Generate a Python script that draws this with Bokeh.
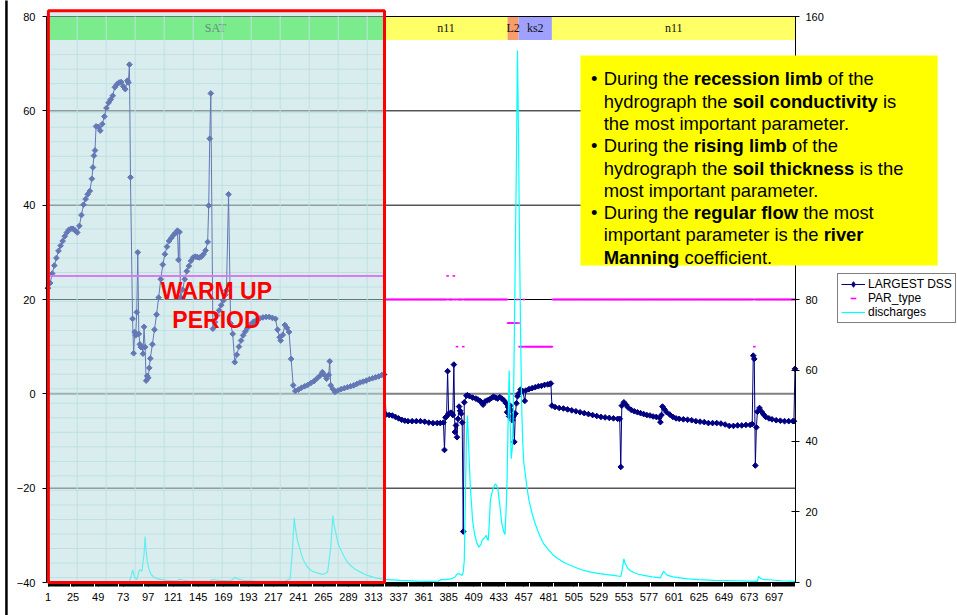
from math import pi

from bokeh.core.properties import value
from bokeh.embed import file_html
from bokeh.models import (BoxAnnotation, FixedTicker, Label, Legend, LegendItem,
                          LinearAxis, Range1d)
from bokeh.plotting import figure
from bokeh.resources import INLINE

# ---------------------------------------------------------------- data
# LARGEST DSS (left axis), by time step
dss_step = [
    1, 3, 5, 7, 9, 11, 13, 15, 17, 19, 21, 23, 25, 27, 29, 31, 33, 35, 37, 39,
    41, 43, 44, 45, 46, 47, 49, 51, 53, 55, 57, 59, 61, 63, 65, 67, 69, 71, 73, 75,
    77, 78, 79, 80, 82, 83, 84, 85, 86, 87, 88, 89, 90, 91, 92, 93, 94, 95, 96, 97,
    98, 99, 101, 103, 105, 107, 109, 111, 113, 115, 117, 119, 121, 123, 125, 126, 127, 128, 130, 132,
    134, 136, 138, 140, 142, 144, 146, 148, 150, 152, 154, 155, 156, 157, 159, 161, 163, 165, 167, 169,
    171, 172, 174, 176, 178, 180, 182, 184, 186, 188, 190, 192, 195, 198, 201, 204, 207, 210, 213, 216,
    219, 221, 223, 224, 226, 228, 230, 232, 234, 236, 238, 241, 244, 247, 250, 253, 256, 259, 262, 264,
    266, 268, 270, 271, 272, 274, 276, 279, 282, 285, 288, 291, 294, 297, 300, 303, 306, 309, 312, 315,
    318, 321, 323,
    325, 328, 331, 334, 337, 340, 343, 346, 350, 354, 358, 362, 366, 370, 374, 377, 380, 381, 382, 383,
    384, 385, 387, 388, 389, 390, 391, 392, 393, 394, 395, 396, 397, 398, 399, 400, 402, 403, 405, 408,
    411, 413, 415, 417, 418, 420, 422, 424, 426, 428, 430, 432, 434, 436, 438, 440, 441, 442, 443, 444,
    445, 446, 447, 448, 449, 450, 451, 452, 454, 456, 458, 459, 462, 465, 468, 471, 474, 477, 480, 482,
    483, 484, 487, 491, 495, 499, 503, 507, 511, 515, 519, 523, 527, 531, 535, 539, 543, 547, 549, 550,
    551, 553, 555, 557, 560, 563, 566, 569, 572, 575, 578, 581, 584, 587, 588, 589, 590, 592, 594, 597,
    600, 603, 606, 610, 614, 618, 622, 626, 630, 634, 638, 642, 646, 650, 654, 658, 662, 666, 670, 674,
    676, 677, 678, 679, 680, 681, 683, 685, 687, 689, 692, 695, 699, 703, 707, 711, 715, 716, 717,
]
dss_value = [
    22.4, 23.5, 25.5, 27.2, 28.8, 30.3, 31.4, 32.4, 33.4, 34.2, 34.8, 35.0, 35.0, 34.6, 34.2, 35.6, 37.9, 40.1, 41.3, 42.3,
    43.0, 45.6, 48.0, 50.5, 51.6, 56.7, 56.6, 55.8, 57.2, 58.8, 60.6, 61.7, 62.4, 63.2, 65.0, 65.6, 66.0, 66.1, 65.2, 64.6,
    66.4, 66.0, 69.8, 45.9, 15.9, 8.6, 13.1, 12.4, 17.3, 30.0, 12.7, 10.5, 9.9, 9.9, 8.5, 14.2, 9.9, 2.8, 3.8, 3.4,
    5.5, 7.5, 10.5, 13.6, 16.8, 20.4, 24.3, 27.4, 29.6, 31.2, 32.4, 33.0, 33.6, 34.1, 34.6, 28.4, 34.3, 20.5, 22.1, 24.3,
    26.0, 27.1, 28.2, 28.9, 29.1, 29.0, 28.9, 29.1, 29.6, 30.4, 32.2, 39.9, 54.1, 63.7, 13.8, 15.2, 16.6, 17.7, 18.8, 19.8,
    21.0, 21.9, 42.3, 14.9, 12.7, 6.7, 8.3, 10.0, 11.3, 12.4, 13.2, 13.9, 14.7, 15.3, 15.7, 16.0, 16.2, 16.3, 16.3, 16.1,
    15.9, 13.6, 12.0, 11.3, 12.5, 14.6, 14.0, 13.1, 7.4, 1.8, 0.6, 0.9, 1.3, 1.6, 1.9, 2.3, 2.7, 3.3, 3.9, 4.6,
    4.0, 3.2, 4.0, 6.9, 1.8, 1.0, 0.4, 0.7, 1.0, 1.2, 1.4, 1.6, 1.8, 2.1, 2.4, 2.6, 2.8, 3.1, 3.3, 3.5,
    3.7, 4.0, 4.1,
    -4.4, -4.5, -4.6, -4.9, -5.2, -5.5, -5.7, -5.8, -5.8, -5.8, -5.8, -5.9, -6.1, -6.2, -6.2, -6.2, -6.1, -11.9, -5.0, -4.8,
    4.8, -4.2, -4.0, -4.1, -4.5, 6.2, -8.1, -6.7, -9.2, -5.3, -2.7, -3.6, -4.2, -6.1, -29.2, -1.8, -0.4, -0.3, -0.5, -0.8,
    -1.0, -1.2, -1.5, -1.9, -2.3, -1.6, -1.4, -1.2, -0.9, -0.6, -0.8, -1.0, -0.7, -1.0, -1.4, -2.0, -3.9, -2.8, -4.8, -2.5,
    -3.5, -5.6, -4.8, -10.2, -4.2, -2.0, -0.5, 0.0, 0.9, 0.6, -1.5, 0.7, 1.0, 1.2, 1.4, 1.6, 1.7, 1.9, 2.0, 2.1,
    2.2, -2.5, -2.8, -3.0, -3.1, -3.3, -3.5, -3.7, -3.9, -4.1, -4.3, -4.5, -4.7, -4.9, -5.0, -5.1, -5.2, -5.3, -5.3, -15.5,
    -2.5, -1.8, -2.3, -2.9, -3.4, -3.7, -3.9, -4.1, -4.3, -4.5, -4.6, -4.8, -4.9, -5.1, -6.0, -4.5, -2.7, -3.3, -3.9, -4.4,
    -4.9, -5.2, -5.3, -5.4, -5.5, -5.6, -5.8, -5.9, -6.0, -6.2, -6.2, -6.2, -6.3, -6.5, -6.8, -6.8, -6.7, -6.7, -6.6, -6.6,
    -6.4, 8.1, 7.4, -15.2, -7.1, -3.8, -3.0, -3.8, -4.4, -4.9, -5.2, -5.4, -5.6, -5.7, -5.8, -5.8, -5.8, -5.8, 5.3,
]

# discharges (right axis), by time step
q_step = [
    1, 40, 79, 81, 82, 84, 86, 88, 89, 91, 93, 94, 95, 96, 98, 100, 103, 106, 110, 115,
    120, 125, 127, 130, 135, 145, 155, 158, 165, 175, 178, 180, 183, 188, 200, 215, 228, 233, 235, 237,
    238, 240, 242, 244, 246, 249, 253, 258, 264, 267, 269, 270, 272, 274, 275, 277, 279, 282, 285, 288,
    291, 295, 300, 307, 315, 323, 339, 355, 365, 375, 378, 382, 387, 391, 393, 395, 398, 399, 400, 401,
    402, 403, 404, 405, 406, 408, 410, 412, 414, 416, 417, 419, 421, 422, 423, 424, 425, 427, 429, 430,
    432, 434, 436, 438, 439, 440, 441, 442, 443, 444, 445, 446, 447, 448, 449, 450, 451, 452, 453, 454,
    455, 456, 457, 458, 460, 462, 465, 467, 470, 473, 476, 480, 485, 490, 496, 502, 508, 512, 520, 528,
    535, 543, 550, 551, 553, 554, 557, 560, 566, 572, 580, 588, 589, 591, 593, 595, 600, 607, 614, 625,
    640, 660, 681, 682, 684, 686, 695, 704, 717,
]
q_value = [
    0.2, 0.2, 0.3, 2.0, 3.6, 1.5, 0.8, 3.0, 3.6, 3.2, 8.0, 13.0, 9.0, 6.2, 3.5, 2.2, 1.4, 1.0, 0.8, 0.6,
    0.5, 0.5, 0.9, 0.7, 0.5, 0.4, 0.3, 0.8, 0.6, 0.5, 0.8, 1.5, 1.0, 0.6, 0.4, 0.3, 0.4, 1.0, 8.0, 18.3,
    15.6, 12.0, 10.0, 7.8, 6.2, 4.6, 3.4, 2.8, 2.3, 2.6, 3.0, 5.3, 10.0, 18.9, 16.5, 13.8, 11.0, 9.0, 7.2, 5.8,
    4.8, 3.8, 3.0, 2.0, 1.3, 0.9, 0.6, 0.4, 0.3, 0.4, 0.8, 0.8, 1.0, 1.5, 2.4, 2.5, 2.0, 3.0, 6.2, 23.2,
    40.0, 47.2, 40.0, 32.6, 26.0, 17.5, 13.5, 11.2, 10.0, 10.8, 11.9, 12.5, 13.3, 12.4, 11.9, 17.0, 23.2, 26.0, 27.5, 27.9,
    26.8, 22.0, 16.6, 14.2, 13.6, 20.0, 28.8, 45.0, 59.9, 45.0, 35.0, 38.0, 48.0, 70.0, 95.0, 120.0, 150.4, 125.0, 95.0, 70.0,
    50.0, 40.0, 34.0, 31.7, 27.0, 23.2, 19.5, 17.5, 15.0, 12.8, 11.0, 9.5, 7.8, 6.7, 5.6, 4.8, 4.1, 3.6, 3.0, 2.6,
    2.3, 2.0, 1.7, 3.0, 6.7, 5.5, 3.9, 3.2, 2.4, 2.0, 1.6, 1.3, 2.0, 3.2, 2.5, 2.0, 1.6, 1.3, 1.0, 0.8,
    0.6, 0.5, 0.3, 1.7, 1.2, 0.9, 0.7, 0.5, 0.3,
]

# PAR_type (left axis): constant runs plus single-step changes
par_run_first = [1, 324, 442, 453, 485]
par_run_last = [323, 441, 452, 484, 717]
par_run_value = [25, 20, 15, 10, 20]
par_spike_step = [384, 390, 393, 399, 451, 457, 678]
par_spike_value = [25, 25, 10, 10, 20, 20, 10]

# parameter band along the top of the chart
band_names = ["SAT", "n11", "L2", "ks2", "n11"]
band_from = [-0.5, 323.5, 441.5, 452.0, 484.0]
band_to = [323.5, 441.5, 452.0, 484.0, 717.5]
band_colors = ["#30FD28", "#FFFF66", "#F79C6B", "#A0A0FF", "#FFFF66"]

x_ticks = [1, 25, 49, 73, 97, 121, 145, 169, 193, 217, 241, 265, 289, 313, 337,
           361, 385, 409, 433, 457, 481, 505, 529, 553, 577, 601, 625, 649, 673, 697]
left_ticks = [-40, -20, 0, 20, 40, 60, 80]
right_ticks = [0, 20, 40, 60, 80, 100, 120, 140, 160]
grid_levels = [-20, 20, 40, 60, 80]

note_lines = [
    [("During the ", False), ("recession limb", True), (" of the", False)],
    [("hydrograph the ", False), ("soil conductivity", True), (" is", False)],
    [("the most important parameter.", False)],
    [("During the ", False), ("rising limb", True), (" of the", False)],
    [("hydrograph the ", False), ("soil thickness", True), (" is the", False)],
    [("most important parameter.", False)],
    [("During the ", False), ("regular flow", True), (" the most", False)],
    [("important parameter is the ", False), ("river", True)],
    [("Manning", True), (" coefficient.", False)],
]
note_bullets = [0, 3, 6]

# expand PAR_type runs
spikes = dict(zip(par_spike_step, par_spike_value))
par_step, par_value = [], []
for first, last, level in zip(par_run_first, par_run_last, par_run_value):
    for s in range(first, last + 1):
        par_step.append(s)
        par_value.append(spikes.get(s, level))

# Arial/Helvetica advance widths (1/1000 em) for placing bold runs
W_REG = {" ": 278, ".": 278, "a": 556, "b": 556, "c": 500, "d": 556, "e": 556, "f": 278,
         "g": 556, "h": 556, "i": 222, "k": 500, "l": 222, "m": 833, "n": 556, "o": 556,
         "p": 556, "r": 333, "s": 500, "t": 278, "u": 556, "v": 500, "w": 722, "y": 500,
         "D": 722, "M": 833}
W_BOLD = {" ": 278, ".": 278, "a": 556, "b": 611, "c": 556, "d": 611, "e": 556, "f": 333,
          "g": 611, "h": 611, "i": 278, "k": 556, "l": 278, "m": 889, "n": 611, "o": 611,
          "p": 611, "r": 389, "s": 556, "t": 333, "u": 611, "v": 556, "w": 778, "y": 556,
          "D": 722, "M": 833}


def text_width(s, bold, size):
    table = W_BOLD if bold else W_REG
    return sum(table.get(ch, 556) for ch in s) * size / 1000.0


FONT = "Liberation Sans"

# ---------------------------------------------------------------- geometry
W, H = 957, 615
X_LO, X_HI = -0.5, 717.5          # category extent of the plot area
Y_LO, Y_HI = -40.0, 80.0          # left-axis extent
Q_LO, Q_HI = 0.0, 160.0           # right-axis extent
AREA_L, AREA_R, AREA_T, AREA_B = 46, 795, 16, 582   # plot area inside the page
ux = (X_HI - X_LO) / (AREA_R - AREA_L)
uy = (Y_HI - Y_LO) / (AREA_B - AREA_T)
uq = (Q_HI - Q_LO) / (AREA_B - AREA_T)

# the frame covers the whole page, axes sit at fixed positions inside it
p = figure(width=W, height=H,
           x_range=Range1d(X_LO - AREA_L * ux, X_HI + (W - AREA_R) * ux),
           y_range=Range1d(Y_LO - (H - AREA_B) * uy, Y_HI + AREA_T * uy),
           x_axis_location=None, y_axis_location=None,
           output_backend="svg", toolbar_location=None,
           min_border=0, min_border_left=0, min_border_right=0,
           min_border_top=0, min_border_bottom=0)
p.extra_y_ranges = {"q": Range1d(Q_LO - (H - AREA_B) * uq, Q_HI + AREA_T * uq)}
p.outline_line_color = None
p.background_fill_color = "white"
p.border_fill_color = "white"
p.xgrid.visible = False
p.ygrid.visible = False


def style_axis(ax, standoff):
    ax.axis_line_color = "black"
    ax.major_tick_line_color = "black"
    ax.major_label_text_font = FONT
    ax.major_label_text_font_size = "11px"
    ax.major_label_text_color = "black"
    ax.major_label_standoff = standoff


xa = LinearAxis(fixed_location=Y_LO, bounds=(X_LO, X_HI),
                ticker=FixedTicker(ticks=x_ticks, minor_ticks=list(range(1, 718))))
style_axis(xa, 6)
xa.major_tick_out = 4
xa.major_tick_in = 0
xa.minor_tick_out = 4
xa.minor_tick_in = 0
xa.minor_tick_line_color = "black"
p.add_layout(xa, "below")

ya = LinearAxis(fixed_location=X_LO, bounds=(Y_LO, Y_HI), ticker=FixedTicker(ticks=left_ticks))
style_axis(ya, 7)
ya.major_tick_out = 4
ya.major_tick_in = 0
ya.minor_tick_line_color = None
p.add_layout(ya, "left")

ra = LinearAxis(fixed_location=X_HI, y_range_name="q", bounds=(Q_LO, Q_HI),
                ticker=FixedTicker(ticks=right_ticks))
style_axis(ra, 6)
ra.major_tick_out = 4
ra.major_tick_in = 4
ra.minor_tick_line_color = None
p.add_layout(ra, "right")

# parameter band
p.quad(left=band_from, right=band_to, bottom=75, top=80, fill_color=band_colors,
       line_color=None)
p.text(x=[(a + b) / 2 for a, b in zip(band_from, band_to)], y=[77.5] * len(band_names),
       text=band_names, text_font=value("Liberation Serif"), text_font_size="12px",
       text_align="center", text_baseline="middle", text_color="#111111")

# horizontal gridlines and the grey zero line
p.segment(x0=X_LO, y0=grid_levels, x1=X_HI, y1=grid_levels, line_color="black", line_width=1)
p.segment(x0=[X_LO], y0=[0], x1=[X_HI], y1=[0], line_color="#808080", line_width=2)

# graph-paper texture of the warm-up panel
paper_x = [28.9 + 27.8 * k for k in range(11)]
p.segment(x0=paper_x, y0=Y_LO, x1=paper_x, y1=Y_HI, line_color="#C6E3E3", line_width=1)
paper_y = [75 - 3.08 * k for k in range(1, 38)]
p.segment(x0=1.3, y0=paper_y, x1=323.5, y1=paper_y, line_color="#C6E3E3", line_width=1)

# series
dss_line = p.line(dss_step, dss_value, line_color="#000080", line_width=1)
dss_marks = p.scatter(dss_step, dss_value, marker="square", angle=pi / 4, size=4,
                      fill_color="#000080", line_color="#000080")
# legend key for the DSS markers (no data of its own)
dss_key = p.scatter(x=[float("nan")], y=[float("nan")], marker="diamond", size=7,
                    fill_color="#000080", line_color="#000080")
par_marks = p.scatter(par_step, par_value, marker="dash", size=2.6, line_color="#FF00FF",
                      line_width=1.6)
q_line = p.line(q_step, q_value, y_range_name="q", line_color="#00FFFF", line_width=1.2)

# warm-up panel
p.add_layout(BoxAnnotation(left=1.3, right=323.5, bottom=Y_LO, top=81.2,
                           fill_color="#B8DDE1", fill_alpha=0.54,
                           line_color="#FF0000", line_alpha=1.0, line_width=3))
for txt, yy in (("WARM UP", 21.76), ("PERIOD", 15.55)):
    p.add_layout(Label(x=162.4, y=yy, text=txt, text_font=FONT, text_font_size="23px",
                       text_font_style="bold", text_color="#FF0000", text_align="center",
                       text_baseline="alphabetic"))

# note box
p.add_layout(BoxAnnotation(left=511.4, right=853.7, bottom=27.21, top=71.73,
                           fill_color="#FFFF00", fill_alpha=1.0, line_color=None))
NOTE_SIZE = 18.4
note_x = 533.7
note_y0 = 66.79
note_dy = 4.728
for k, runs in enumerate(note_lines):
    yy = note_y0 - k * note_dy
    if k in note_bullets:
        p.add_layout(Label(x=521.5, y=yy, text="\u2022", text_font=FONT,
                           text_font_size=f"{NOTE_SIZE}px", text_color="black",
                           text_baseline="alphabetic", text_align="left"))
    offset = 0.0
    for run, bold in runs:
        lead = run[:len(run) - len(run.lstrip())]
        body = run.strip()
        p.add_layout(Label(x=note_x, y=yy, x_offset=offset + text_width(lead, bold, NOTE_SIZE),
                           text=body, text_font=FONT, text_font_size=f"{NOTE_SIZE}px",
                           text_font_style="bold" if bold else "normal", text_color="black",
                           text_baseline="alphabetic", text_align="left"))
        offset += text_width(run, bold, NOTE_SIZE)

# page edge rule on the far left
p.add_layout(BoxAnnotation(left=-40.1, right=-37.7, bottom=-48, top=85, fill_color="black",
                           fill_alpha=1.0, line_color=None))

legend = Legend(items=[LegendItem(label="LARGEST DSS", renderers=[dss_line, dss_key]),
                       LegendItem(label="PAR_type", renderers=[par_marks]),
                       LegendItem(label="discharges", renderers=[q_line])],
                location=(837, H - 323))
legend.label_text_font = FONT
legend.label_text_font_size = "12px"
legend.label_text_color = "black"
legend.border_line_color = "black"
legend.border_line_width = 1
legend.background_fill_color = "white"
legend.background_fill_alpha = 1.0
legend.padding = 3
legend.spacing = 0
legend.margin = 0
legend.glyph_width = 24
legend.glyph_height = 14
legend.label_height = 14
legend.label_standoff = 3
p.add_layout(legend, "center")

open("out.html", "w").write(file_html(p, INLINE))
